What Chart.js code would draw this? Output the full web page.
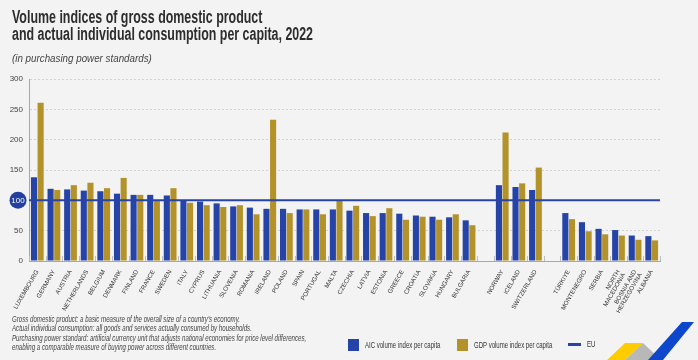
<!DOCTYPE html>
<html>
<head>
<meta charset="utf-8">
<script src="https://cdn.jsdelivr.net/npm/chart.js@4/dist/chart.umd.min.js"></script>
<style>
  body { margin: 0; background: #f3f3f3; }
  #wrap { position: relative; width: 698px; height: 360px; overflow: hidden; background: #f3f3f3;
          font-family: "Liberation Sans", Arial, sans-serif; color: #333; }
  #chart { position: absolute; left: 0; top: 0; }
  /* no narrow font installed, so text is squeezed horizontally */
  .squeeze { position: absolute; white-space: nowrap; transform-origin: 0 0; }
  .title { left: 12px; top: 9px; font-size: 17.5px; font-weight: bold; line-height: 17px; color: #2d2d2d; transform: scaleX(0.71); }
  .sub { left: 12px; top: 52px; font-size: 11px; font-style: italic; color: #444; transform: scaleX(0.89); }
  .notes { left: 12px; top: 315px; font-size: 9px; font-style: italic; line-height: 9.4px; color: #444; transform: scaleX(0.68); }
  .legend { top: 339px; font-size: 9px; color: #333; display: flex; align-items: center; }
  .legend span.t { display: inline-block; transform: scaleX(0.67); transform-origin: 0 50%; }
  .sw { display: inline-block; width: 11px; height: 12px; margin-right: 6px; }
  .ln { display: inline-block; width: 13px; height: 3px; margin-right: 6px; background: #2644a8; }
  svg { position: absolute; left: 0; top: 0; }
</style>
</head>
<body>
<div id="wrap">
  <canvas id="chart" width="698" height="360"></canvas>
  <div class="squeeze title">Volume indices of gross domestic product<br>and actual individual consumption per capita, 2022</div>
  <div class="squeeze sub">(in purchasing power standards)</div>
  <div class="squeeze notes">Gross domestic product: a basic measure of the overall size of a country's economy.<br>Actual individual consumption: all goods and services actually consumed by households.<br>Purchasing power standard: artificial currency unit that adjusts national economies for price level differences,<br>enabling a comparable measure of buying power across different countries.</div>
  <div class="squeeze legend" style="left:348px"><span class="sw" style="background:#2644a8"></span><span class="t">AIC volume index per capita</span></div>
  <div class="squeeze legend" style="left:457px"><span class="sw" style="background:#b3922a"></span><span class="t">GDP volume index per capita</span></div>
  <div class="squeeze legend" style="left:568px"><span class="ln"></span><span class="t">EU</span></div>
  <svg width="698" height="360">
    <polygon points="607,360 625,343 643,343 625,360" fill="#ffcc00"/>
    <polygon points="643,343 625,360 661,360" fill="#b8b8b8"/>
    <polygon points="682,322 694,322 663,360 648,360" fill="#0e47cb"/>
  </svg>
</div>
<script>
const countries = [
  'LUXEMBOURG', 'GERMANY', 'AUSTRIA', 'NETHERLANDS', 'BELGIUM', 'DENMARK', 'FINLAND', 'FRANCE', 'SWEDEN',
  'ITALY', 'CYPRUS', 'LITHUANIA', 'SLOVENIA', 'ROMANIA', 'IRELAND', 'POLAND', 'SPAIN', 'PORTUGAL', 'MALTA',
  'CZECHIA', 'LATVIA', 'ESTONIA', 'GREECE', 'CROATIA', 'SLOVAKIA', 'HUNGARY', 'BULGARIA',
  '',
  'NORWAY', 'ICELAND', 'SWITZERLAND',
  '',
  'TÜRKIYE', 'MONTENEGRO', 'SERBIA', ['NORTH', 'MACEDONIA'], ['BOSNIA AND', 'HERZEGOVINA'], 'ALBANIA'
];
const aicValues = [
  138, 119, 118, 116, 115, 111, 109, 109, 108,
  100, 98, 95, 90, 88, 86, 86, 85, 85, 85,
  83, 79, 79, 78, 75, 73, 72, 67,
  null,
  125, 122, 117,
  null,
  79, 64, 53, 51, 42, 41
];
const gdpValues = [
  261, 117, 125, 129, 120, 137, 109, 99, 120,
  96, 92, 89, 92, 77, 233, 79, 85, 77, 99,
  91, 74, 87, 68, 73, 68, 77, 59,
  null,
  212, 128, 154,
  null,
  69, 49, 44, 42, 35, 34
];
const yTicks = [0, 50, 100, 150, 200, 250, 300];
const euLevel = 100;

const blue = '#2644a8';
const gold = '#b3922a';

// EU reference line, the highlighted "100" tick and little boundary marks on the axis
const euLine = {
  id: 'euLine',
  afterDatasetsDraw(chart) {
    const { ctx, chartArea, scales } = chart;
    const y = scales.y.getPixelForValue(euLevel);
    ctx.save();
    ctx.strokeStyle = '#bdbdbd';
    ctx.lineWidth = 1;
    for (let i = 0; i <= countries.length; i++) {
      const x = Math.round(scales.x.getPixelForValue(i - 0.5)) + 0.5;
      ctx.beginPath();
      ctx.moveTo(x, chartArea.bottom);
      ctx.lineTo(x, chartArea.bottom - 5);
      ctx.stroke();
    }
    ctx.strokeStyle = blue;
    ctx.lineWidth = 2;
    ctx.beginPath();
    ctx.moveTo(chartArea.left, y);
    ctx.lineTo(chartArea.right, y);
    ctx.stroke();
    ctx.fillStyle = '#23409f';
    ctx.beginPath();
    ctx.arc(18, y, 8.5, 0, Math.PI * 2);
    ctx.fill();
    ctx.fillStyle = '#fff';
    ctx.font = '8px "Liberation Sans", Arial, sans-serif';
    ctx.textAlign = 'center';
    ctx.textBaseline = 'middle';
    ctx.fillText(String(euLevel), 18, y + 0.5);
    ctx.restore();
  }
};

new Chart(document.getElementById('chart'), {
  type: 'bar',
  data: {
    labels: countries,
    datasets: [
      { label: 'AIC volume index per capita', data: aicValues, backgroundColor: blue },
      { label: 'GDP volume index per capita', data: gdpValues, backgroundColor: gold }
    ]
  },
  options: {
    responsive: false,
    animation: false,
    layout: { padding: { top: 79, right: 38, left: 0, bottom: 0 } },
    datasets: { bar: { categoryPercentage: 0.8, barPercentage: 0.92 } },
    plugins: { legend: { display: false }, tooltip: { enabled: false } },
    scales: {
      x: {
        afterFit(scale) { scale.height = 99; },
        grid: { display: false },
        border: { color: '#a8a8a8', width: 1 },
        ticks: {
          autoSkip: false, minRotation: 60, maxRotation: 60, padding: 0,
          color: '#333',
          font: { family: '"Liberation Sans", Arial, sans-serif', size: 6.2, lineHeight: 1 }
        }
      },
      y: {
        min: 0, max: 300,
        afterFit(scale) { scale.width = 29; },
        afterBuildTicks(scale) { scale.ticks = yTicks.map(v => ({ value: v })); },
        grid: { color: '#d2d2d2', drawTicks: false },
        border: { color: '#a8a8a8', width: 1, dash: [2, 2] },
        ticks: {
          padding: 6, color: '#444',
          callback: v => (v === euLevel ? '' : v),
          font: { family: '"Liberation Sans", Arial, sans-serif', size: 8 }
        }
      }
    }
  },
  plugins: [euLine]
});
</script>
</body>
</html>
